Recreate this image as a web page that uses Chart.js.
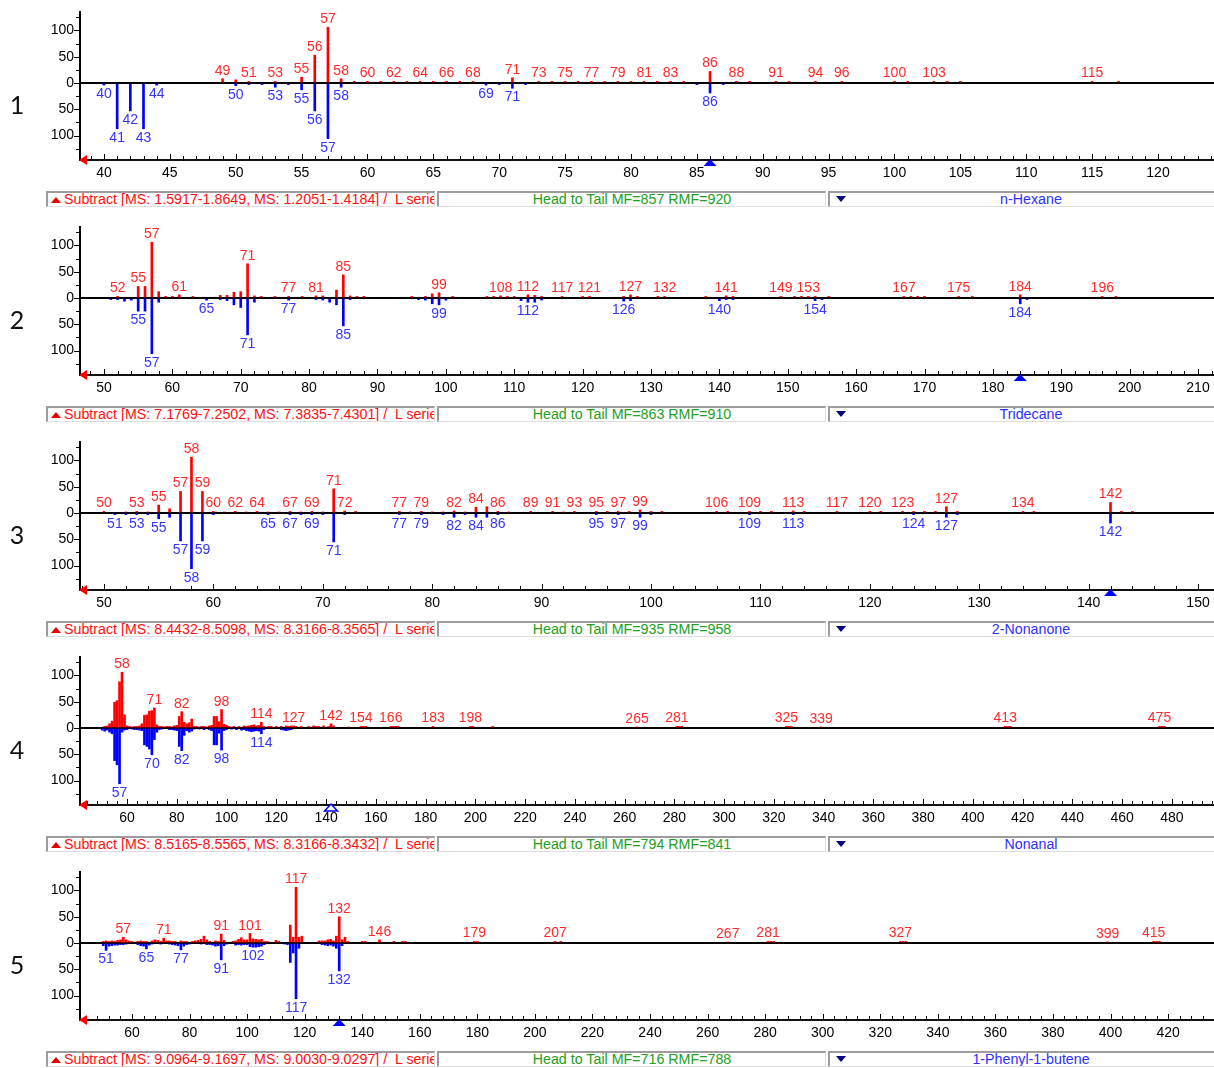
<!DOCTYPE html>
<html>
<head>
<meta charset="utf-8">
<title>Head to Tail spectra</title>
<script src="https://cdn.jsdelivr.net/npm/chart.js@4.4.1/dist/chart.umd.min.js"></script>
<style>
  html, body { margin: 0; padding: 0; background: #fff; }
  body { width: 1214px; height: 1068px; position: relative; overflow: hidden;
         font-family: "Liberation Sans", Arial, sans-serif; }
  .panel { position: absolute; left: 0; width: 1214px; height: 215px; }
  .panel canvas { position: absolute; left: 0; top: 0; }
  .num { position: absolute; left: 4px; width: 26px; text-align: center;
         font-family: Lato, "Noto Sans", sans-serif; font-size: 25px; line-height: 30px; color: #111; }
  .sbox { position: absolute; height: 13px; background: #fff; box-sizing: content-box;
          border-top: 2px solid #9c9c9c; border-left: 2px solid #9c9c9c;
          border-bottom: 1px solid #dedede; border-right: 1px solid #dedede;
          overflow: hidden; white-space: nowrap; font-size: 14.25px; line-height: 13px; }
  .up { display: inline-block; width: 0; height: 0; margin: 0 3px 1px 3px; vertical-align: middle;
        border-left: 5px solid transparent; border-right: 5px solid transparent; border-bottom: 6px solid #e00000; }
  .down { position: absolute; left: 6px; top: 3px; width: 0; height: 0;
          border-left: 5px solid transparent; border-right: 5px solid transparent; border-top: 6px solid #000080; }
</style>
</head>
<body>
<script>
// ---- n-Hexane: [m/z, relative intensity] ----
const hexaneSample = [[49,8],[50,6],[51,3],[53,3],[55,11],[56,53],[57,106],[58,8],[59,3],[60,3],[61,3],[62,3],[63,3],[64,3],[65,3],[66,3],[67,3],[68,3],[71,10],[73,3],[74,3],[75,3],[76,3],[77,3],[78,3],[79,3],[80,3],[81,3],[82,3],[83,3],[84,3],[86,22],[88,3],[89,3],[91,3],[92,3],[94,3],[96,3],[100,3],[101,3],[103,3],[104,3],[105,3],[115,3],[117,3]];
const hexaneLibrary = [[40,4],[41,87],[42,53],[43,87],[44,4],[50,5],[51,3],[52,3],[53,8],[54,3],[55,13],[56,53],[57,106],[58,8],[69,4],[70,3],[71,10],[72,3],[85,3],[86,19],[87,3]];
const hexaneSampleLabels = [49,51,53,55,56,57,58,60,62,64,66,68,71,73,75,77,79,81,83,86,88,91,94,96,100,103,115];
const hexaneLibraryLabels = [40,41,42,43,44,50,53,55,56,57,58,69,71,86];

// ---- Tridecane ----
const tridecaneSample = [[52,3],[55,22],[56,22],[57,106],[58,12],[59,3],[60,3],[61,6],[63,3],[67,5],[68,5],[69,11],[70,12],[71,65],[72,4],[73,3],[75,3],[77,3],[79,3],[81,4],[82,4],[84,15],[85,44],[86,4],[87,3],[88,3],[95,3],[97,3],[98,8],[99,10],[101,3],[106,3],[107,3],[108,4],[109,3],[110,3],[112,6],[113,5],[114,3],[117,3],[120,3],[121,3],[126,3],[127,6],[128,3],[131,3],[132,3],[138,3],[141,4],[142,3],[149,3],[151,3],[152,3],[153,3],[154,3],[156,3],[167,3],[168,3],[169,3],[170,3],[175,3],[177,3],[184,6],[196,3],[198,3]];
const tridecaneLibrary = [[51,3],[52,3],[53,6],[54,4],[55,25],[56,25],[57,106],[58,8],[65,4],[67,3],[68,5],[69,13],[70,18],[71,70],[72,8],[77,4],[81,3],[82,4],[83,8],[84,13],[85,53],[86,3],[96,3],[97,4],[98,11],[99,13],[100,4],[111,5],[112,8],[113,8],[114,4],[126,6],[127,5],[140,5],[141,3],[142,3],[154,5],[155,3],[184,11],[185,3]];
const tridecaneSampleLabels = [52,55,57,61,71,77,81,85,99,108,112,117,121,127,132,141,149,153,167,175,184,196];
const tridecaneLibraryLabels = [55,57,65,71,77,85,99,112,126,140,154,184];

// ---- 2-Nonanone ----
const nonanoneSample = [[50,3],[52,2],[53,3],[54,2],[55,15],[56,8],[57,41],[58,106],[59,41],[60,3],[61,2],[62,3],[63,2],[64,3],[65,2],[66,2],[67,3],[68,2],[69,3],[70,2],[71,46],[72,4],[73,3],[77,3],[78,2],[79,3],[80,2],[81,2],[82,4],[83,2],[84,11],[85,12],[86,3],[87,2],[89,3],[91,3],[92,2],[93,3],[95,3],[96,3],[97,3],[98,3],[99,6],[100,3],[101,3],[106,3],[107,3],[109,3],[110,3],[111,3],[113,4],[114,3],[117,3],[120,3],[121,3],[123,3],[124,3],[125,3],[126,3],[127,12],[128,3],[134,3],[135,3],[142,20],[143,3],[144,3]];
const nonanoneLibrary = [[51,3],[52,3],[53,3],[54,3],[55,11],[56,8],[57,53],[58,106],[59,53],[60,3],[65,3],[67,3],[68,3],[69,3],[70,3],[71,55],[72,3],[77,3],[79,3],[81,3],[82,8],[83,3],[84,8],[85,8],[86,3],[95,3],[97,3],[99,8],[100,3],[109,3],[113,3],[124,3],[127,8],[128,3],[142,19]];
const nonanoneSampleLabels = [50,53,55,57,58,59,60,62,64,67,69,71,72,77,79,82,84,86,89,91,93,95,97,99,106,109,113,117,120,123,127,134,142];
const nonanoneLibraryLabels = [51,53,55,57,58,59,65,67,69,71,77,79,82,84,86,95,97,99,109,113,124,127,142];

// ---- Nonanal ----
const nonanalSample = [[51,3],[52,4],[53,8],[54,13],[55,49],[56,52],[57,88],[58,106],[59,25],[60,4],[61,3],[62,2],[63,3],[64,3],[65,4],[66,8],[67,24],[68,25],[69,32],[70,33],[71,38],[72,6],[73,3],[74,3],[75,2],[76,3],[77,3],[78,2],[79,4],[80,5],[81,22],[82,31],[83,11],[84,8],[85,10],[86,17],[87,3],[88,3],[89,2],[90,3],[91,3],[92,2],[93,4],[94,5],[95,22],[96,22],[97,12],[98,35],[99,7],[100,5],[101,3],[102,2],[103,3],[105,3],[107,4],[108,3],[109,4],[110,5],[111,6],[112,4],[113,5],[114,11],[115,3],[117,3],[118,3],[120,3],[122,3],[124,4],[125,3],[126,4],[127,4],[128,3],[130,3],[133,3],[135,4],[136,3],[137,3],[139,4],[141,3],[142,8],[143,4],[149,2],[154,3],[155,3],[156,3],[166,3],[167,3],[168,3],[169,3],[183,3],[198,3],[199,3],[207,3],[265,2],[281,3],[282,3],[283,3],[325,3],[326,3],[327,3],[339,2],[413,3],[414,3],[415,3],[475,3],[476,3],[477,3]];
const nonanalLibrary = [[50,4],[51,6],[52,4],[53,8],[54,11],[55,62],[56,70],[57,106],[58,8],[59,4],[60,3],[62,2],[63,3],[64,3],[65,4],[66,5],[67,32],[68,35],[69,40],[70,51],[71,22],[72,8],[73,3],[74,2],[77,3],[78,3],[79,4],[80,5],[81,35],[82,43],[83,14],[84,5],[85,8],[86,6],[87,2],[89,2],[91,3],[93,3],[94,5],[95,32],[96,32],[97,10],[98,42],[99,5],[100,3],[102,2],[104,3],[106,4],[107,3],[108,5],[109,6],[110,7],[111,6],[112,5],[113,6],[114,11],[115,3],[122,3],[123,4],[124,5],[125,4],[126,3]];
const nonanalSampleLabels = [58,71,82,98,114,127,142,154,166,183,198,265,281,325,339,413,475];
const nonanalLibraryLabels = [57,70,82,98,114];

// ---- 1-Phenyl-1-butene ----
const phenylbuteneSample = [[50,3],[51,4],[52,3],[53,4],[54,3],[55,5],[56,6],[57,11],[58,6],[59,4],[60,3],[62,3],[63,4],[64,3],[65,3],[67,4],[68,6],[69,5],[70,3],[71,9],[72,4],[73,4],[74,3],[75,3],[77,4],[78,3],[79,3],[81,3],[82,4],[83,5],[84,7],[85,13],[86,6],[87,3],[89,4],[90,3],[91,17],[92,5],[95,3],[96,4],[97,7],[98,10],[99,6],[100,6],[101,18],[102,8],[103,7],[104,6],[105,7],[106,3],[107,3],[110,5],[111,3],[115,34],[116,11],[117,106],[118,11],[119,13],[125,4],[126,4],[127,4],[128,6],[129,7],[130,4],[131,13],[132,50],[133,6],[134,11],[135,3],[140,3],[141,3],[146,6],[151,3],[154,3],[155,3],[179,3],[180,3],[207,3],[209,3],[267,2],[281,3],[282,3],[283,3],[327,3],[328,3],[329,3],[399,2],[415,3],[416,3],[417,3]];
const phenylbuteneLibrary = [[50,5],[51,14],[52,6],[53,5],[54,4],[55,4],[56,3],[57,3],[58,2],[62,3],[63,5],[64,6],[65,11],[66,4],[67,2],[70,2],[73,2],[74,3],[75,4],[76,5],[77,13],[78,6],[79,3],[80,2],[84,2],[86,3],[87,3],[88,4],[89,6],[90,5],[91,32],[92,5],[93,2],[96,4],[97,3],[98,4],[99,3],[100,3],[101,7],[102,8],[103,8],[104,7],[105,6],[106,3],[113,2],[114,3],[115,37],[116,19],[117,106],[118,10],[126,3],[127,4],[128,5],[129,4],[130,6],[131,10],[132,53],[133,5]];
const phenylbuteneSampleLabels = [57,71,91,101,117,132,146,179,207,267,281,327,399,415];
const phenylbuteneLibraryLabels = [51,65,77,91,102,117,132];

// ---- per-panel texts and molecular ion marks ----
const panelNumbers = ['1', '2', '3', '4', '5'];
const compoundNames = ['n-Hexane', 'Tridecane', '2-Nonanone', 'Nonanal', '1-Phenyl-1-butene'];
const subtractTexts = [
  'Subtract [MS: 1.5917-1.8649, MS: 1.2051-1.4184] /\u00a0 L series',
  'Subtract [MS: 7.1769-7.2502, MS: 7.3835-7.4301] /\u00a0 L series',
  'Subtract [MS: 8.4432-8.5098, MS: 8.3166-8.3565] /\u00a0 L series',
  'Subtract [MS: 8.5165-8.5565, MS: 8.3166-8.3432] /\u00a0 L series',
  'Subtract [MS: 9.0964-9.1697, MS: 9.0030-9.0297] /\u00a0 L series'
];
const matchTexts = ['Head to Tail MF=857 RMF=920', 'Head to Tail MF=863 RMF=910', 'Head to Tail MF=935 RMF=958',
                    'Head to Tail MF=794 RMF=841', 'Head to Tail MF=716 RMF=788'];
const molecularIon = [86, 184, 142, 142, 132];
const molecularIonOpen = [false, false, false, true, false];

// ---- panel configuration (axis windows and tick steps) ----
const panels = [
  { sample: hexaneSample, library: hexaneLibrary, sLab: hexaneSampleLabels, lLab: hexaneLibraryLabels, xMin: 38.18, xMax: 124.25, major: 5, minor: 1 },
  { sample: tridecaneSample, library: tridecaneLibrary, sLab: tridecaneSampleLabels, lLab: tridecaneLibraryLabels, xMin: 46.49, xMax: 212.34, major: 10, minor: 2 },
  { sample: nonanoneSample, library: nonanoneLibrary, sLab: nonanoneSampleLabels, lLab: nonanoneLibraryLabels, xMin: 47.81, xMax: 151.46, major: 10, minor: 2 },
  { sample: nonanalSample, library: nonanalLibrary, sLab: nonanalSampleLabels, lLab: nonanalLibraryLabels, xMin: 41.1, xMax: 496.9, major: 20, minor: 4 },
  { sample: phenylbuteneSample, library: phenylbuteneLibrary, sLab: phenylbuteneSampleLabels, lLab: phenylbuteneLibraryLabels, xMin: 41.93, xMax: 435.96, major: 20, minor: 4 }
];

const panelTops = [4, 219, 434, 649, 864];
const FONT = '"Liberation Sans", Arial, sans-serif';
const CANVAS_H = 186;

function decorPlugin(p, idx) {
  return {
    id: 'decor' + idx,
    afterDatasetsDraw(chart) {
      const ctx = chart.ctx, a = chart.chartArea, xs = chart.scales.x, ys = chart.scales.y;
      ctx.save();
      // tick marks: m/z ticks point up from the axis, intensity ticks point left
      ctx.strokeStyle = '#000';
      ctx.lineWidth = 1;
      ctx.beginPath();
      const start = Math.ceil(xs.min / p.minor) * p.minor;
      for (let v = start; v <= xs.max + 1e-9; v += p.minor) {
        const px = Math.round(xs.getPixelForValue(v)) + 0.5;
        const major = Math.abs(v / p.major - Math.round(v / p.major)) < 1e-6;
        ctx.moveTo(px, a.bottom - 1);
        ctx.lineTo(px, a.bottom - 1 - (major ? 5 : 3));
      }
      for (let v = -125; v <= 125; v += 25) {
        const py = Math.round(ys.getPixelForValue(v)) + 0.5;
        ctx.moveTo(a.left - 1 - (v % 50 === 0 ? 5 : 3), py);
        ctx.lineTo(a.left - 1, py);
      }
      ctx.stroke();

      // peak m/z labels
      ctx.font = '14px ' + FONT;
      ctx.textAlign = 'center';
      ctx.textBaseline = 'alphabetic';
      const label = (di, list, color, dy) => {
        const meta = chart.getDatasetMeta(di);
        const pts = chart.data.datasets[di].data;
        ctx.fillStyle = color;
        meta.data.forEach((el, i) => {
          if (list.indexOf(pts[i].x) >= 0) ctx.fillText(String(pts[i].x), el.x, el.y + dy);
        });
      };
      label(0, p.sLab, '#ff2a2a', -4);
      label(1, p.lLab, '#3535ff', 13);

      // red arrow at the left end of the m/z axis
      ctx.fillStyle = '#ff0000';
      ctx.beginPath();
      ctx.moveTo(a.left - 1, a.bottom);
      ctx.lineTo(a.left + 7, a.bottom - 5);
      ctx.lineTo(a.left + 7, a.bottom + 5);
      ctx.closePath();
      ctx.fill();

      // molecular ion mark
      const mx = xs.getPixelForValue(molecularIon[idx]);
      ctx.beginPath();
      ctx.moveTo(mx, a.bottom - 1);
      ctx.lineTo(mx - 6.5, a.bottom + 6);
      ctx.lineTo(mx + 6.5, a.bottom + 6);
      ctx.closePath();
      if (molecularIonOpen[idx]) {
        ctx.fillStyle = '#fff';
        ctx.fill();
        ctx.strokeStyle = '#0000ff';
        ctx.lineWidth = 1.5;
        ctx.stroke();
      } else {
        ctx.fillStyle = '#0000ff';
        ctx.fill();
      }
      ctx.restore();
    }
  };
}

panels.forEach((p, idx) => {
  const wrap = document.createElement('div');
  wrap.className = 'panel';
  wrap.style.top = panelTops[idx] + 'px';
  document.body.appendChild(wrap);

  const canvas = document.createElement('canvas');
  canvas.width = 1214;
  canvas.height = CANVAS_H;
  canvas.style.width = '1214px';
  canvas.style.height = CANVAS_H + 'px';
  wrap.appendChild(canvas);

  const num = document.createElement('div');
  num.className = 'num';
  num.style.top = '85px';
  num.textContent = panelNumbers[idx];
  wrap.appendChild(num);

  // status row under the spectrum
  const s1 = document.createElement('div');
  s1.className = 'sbox';
  s1.style.cssText = 'left:46px;top:187px;width:386px;color:#ff1010;';
  const tri = document.createElement('span');
  tri.className = 'up';
  s1.appendChild(tri);
  s1.appendChild(document.createTextNode(subtractTexts[idx]));
  wrap.appendChild(s1);

  const s2 = document.createElement('div');
  s2.className = 'sbox';
  s2.style.cssText = 'left:437px;top:187px;width:386px;color:#22a022;text-align:center;';
  s2.textContent = matchTexts[idx];
  wrap.appendChild(s2);

  const s3 = document.createElement('div');
  s3.className = 'sbox';
  s3.style.cssText = 'left:828px;top:187px;width:402px;color:#2f2fff;text-align:center;';
  const dn = document.createElement('span');
  dn.className = 'down';
  s3.appendChild(dn);
  s3.appendChild(document.createTextNode(compoundNames[idx]));
  wrap.appendChild(s3);

  new Chart(canvas, {
    type: 'bar',
    data: {
      datasets: [
        { label: compoundNames[idx] + ' (sample)', data: p.sample.map(d => ({ x: d[0], y: d[1] })),
          backgroundColor: '#ff0000', barThickness: 2, grouped: false },
        { label: compoundNames[idx] + ' (library)', data: p.library.map(d => ({ x: d[0], y: -d[1] })),
          backgroundColor: '#0000ff', barThickness: 2, grouped: false }
      ]
    },
    options: {
      responsive: false,
      animation: false,
      events: [],
      layout: { padding: { top: 8, left: 0, right: 0, bottom: 0 } },
      plugins: { legend: { display: false }, tooltip: { enabled: false } },
      scales: {
        x: {
          type: 'linear', position: 'bottom', offset: false,
          min: p.xMin, max: p.xMax,
          afterBuildTicks: s => {
            const t = [];
            for (let v = Math.ceil(p.xMin / p.major) * p.major; v <= p.xMax; v += p.major) t.push({ value: v });
            s.ticks = t;
          },
          afterFit: s => { s.height = CANVAS_H - 8 - 148; s.paddingLeft = 0; s.paddingRight = 0; },
          ticks: { autoSkip: false, maxRotation: 0, padding: 5, color: '#000',
                   font: { family: FONT, size: 14 }, callback: v => String(v) },
          grid: { display: false, drawTicks: false, offset: false },
          border: { display: true, color: '#111', width: 2 }
        },
        y: {
          min: -146.4, max: 135,
          afterBuildTicks: s => { s.ticks = [-100, -50, 0, 50, 100].map(v => ({ value: v })); },
          afterFit: s => { s.width = 80; s.paddingTop = 0; s.paddingBottom = 0; },
          ticks: { padding: 6, color: '#000', font: { family: FONT, size: 14 },
                   callback: v => String(Math.abs(v)) },
          grid: { drawTicks: false,
                  color: c => (c.tick && c.tick.value === 0) ? '#000' : 'rgba(0,0,0,0)',
                  lineWidth: 2 },
          border: { display: true, color: '#000', width: 2 }
        }
      }
    },
    plugins: [decorPlugin(p, idx)]
  });
});
</script>
</body>
</html>
